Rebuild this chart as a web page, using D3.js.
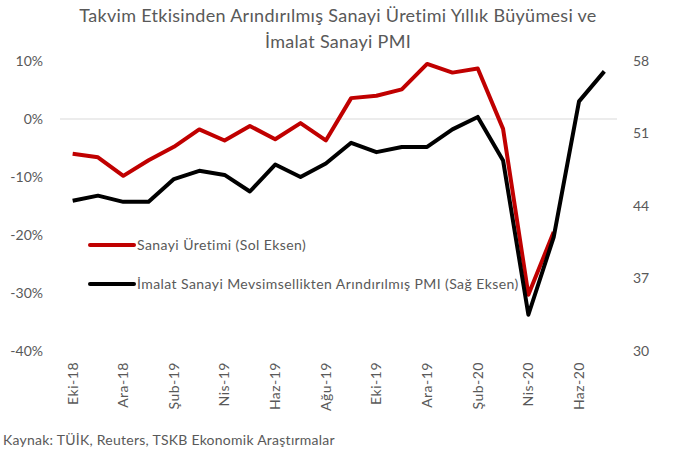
<!DOCTYPE html>
<html>
<head>
<meta charset="utf-8">
<script src="https://cdn.jsdelivr.net/npm/d3@7"></script>
<style>
  body { margin: 0; background: #fff; }
  text { font-family: Lato, "Open Sans", sans-serif; fill: #595959; }
</style>
</head>
<body>
<div id="chart"></div>
<script>
var months = ["Eki-18","Kas-18","Ara-18","Oca-19","Şub-19","Mar-19","Nis-19","May-19","Haz-19","Tem-19","Ağu-19","Eyl-19",
  "Eki-19","Kas-19","Ara-19","Oca-20","Şub-20","Mar-20","Nis-20","May-20","Haz-20","Tem-20"]
var shownLabels = ["Eki-18","Ara-18","Şub-19","Nis-19","Haz-19","Ağu-19","Eki-19","Ara-19","Şub-20","Nis-20","Haz-20"]
// sanayi uretimi, % yillik (sol eksen)
var sanayi = [-6.0,-6.6,-9.8,-7.1,-4.8,-1.8,-3.7,-1.2,-3.5,-0.7,-3.7,3.6,4.0,5.1,9.5,8.0,8.7,-1.7,-30.3,-19.5,null,null]
// imalat PMI (sag eksen)
var pmi = [44.5,45.0,44.4,44.4,46.6,47.4,47.0,45.4,48.0,46.8,48.1,50.1,49.2,49.7,49.7,51.4,52.6,48.4,33.5,41.0,54.1,57.0]
var leftTicks = [10,0,-10,-20,-30,-40]
var rightTicks = [58,51,44,37,30]

var width = 675, height = 452
var dimensions = { margin: { top: 61, right: 58, bottom: 101, left: 60 } }
dimensions.boundedWidth = width - dimensions.margin.left - dimensions.margin.right
dimensions.boundedHeight = height - dimensions.margin.top - dimensions.margin.bottom

var wrapper = d3.select("#chart").append("svg")
  .attr("width", width)
  .attr("height", height)

// legend (under the lines)
var legend = [
  { label: "Sanayi Üretimi (Sol Eksen)", color: "#c00000", y: 245 },
  { label: "İmalat Sanayi Mevsimsellikten Arındırılmış PMI (Sağ Eksen)", color: "#000", y: 284 }
]
legend.forEach(l => {
  wrapper.append("line")
    .attr("x1", 90).attr("x2", 134).attr("y1", l.y).attr("y2", l.y)
    .attr("stroke", l.color).attr("stroke-width", 4).attr("stroke-linecap", "round")
  wrapper.append("text")
    .attr("x", 137).attr("y", l.y).attr("dy", "0.35em")
    .style("font-size", "14px").style("letter-spacing", "0.42px")
    .text(l.label)
})

var bounds = wrapper.append("g")
  .attr("transform", `translate(${dimensions.margin.left},${dimensions.margin.top})`)

var xScale = d3.scaleBand()
  .domain(months)
  .range([0, dimensions.boundedWidth])

var yLeft = d3.scaleLinear().domain([-40, 10]).range([dimensions.boundedHeight, 0])
var yRight = d3.scaleLinear().domain([30, 58]).range([dimensions.boundedHeight, 0])

var xCenter = d => xScale(d) + xScale.bandwidth() / 2

// only the zero gridline
bounds.append("line")
  .attr("x1", 0).attr("x2", dimensions.boundedWidth)
  .attr("y1", yLeft(0)).attr("y2", yLeft(0))
  .attr("stroke", "#d9d9d9").attr("stroke-width", 1)

var yAxisLeft = bounds.append("g")
  .call(d3.axisLeft(yLeft).tickValues(leftTicks).tickSize(0).tickPadding(17).tickFormat(d => d + "%"))
  .call(g => g.select(".domain").remove())
yAxisLeft.selectAll("text").style("font-size", "14px").style("fill", "#595959").style("font-family", "Lato")

var yAxisRight = bounds.append("g")
  .attr("transform", `translate(${dimensions.boundedWidth},0)`)
  .call(d3.axisRight(yRight).tickValues(rightTicks).tickSize(0).tickPadding(16))
  .call(g => g.select(".domain").remove())
yAxisRight.selectAll("text").style("font-size", "14px").style("fill", "#595959").style("font-family", "Lato")

var xAxis = bounds.append("g")
  .attr("transform", `translate(0,${dimensions.boundedHeight})`)
  .call(d3.axisBottom(xScale).tickValues(shownLabels).tickSize(0))
  .call(g => g.select(".domain").remove())
xAxis.selectAll("text")
  .style("font-size", "14px").style("fill", "#595959").style("font-family", "Lato")
  .style("letter-spacing", "0.5px")
  .style("text-anchor", "end")
  .attr("transform", "rotate(-90)")
  .attr("x", -11).attr("y", 0).attr("dy", "0.35em")

var lineLeft = d3.line()
  .defined(d => d.v != null)
  .x(d => xCenter(d.m))
  .y(d => yLeft(d.v))
var lineRight = d3.line()
  .defined(d => d.v != null)
  .x(d => xCenter(d.m))
  .y(d => yRight(d.v))

bounds.append("path")
  .datum(months.map((m, i) => ({ m: m, v: sanayi[i] })))
  .attr("d", lineLeft)
  .attr("fill", "none").attr("stroke", "#c00000").attr("stroke-width", 4)
  .attr("stroke-linejoin", "round")

bounds.append("path")
  .datum(months.map((m, i) => ({ m: m, v: pmi[i] })))
  .attr("d", lineRight)
  .attr("fill", "none").attr("stroke", "#000").attr("stroke-width", 4)
  .attr("stroke-linejoin", "round")

// title
wrapper.append("text")
  .attr("x", 338).attr("y", 22).attr("text-anchor", "middle")
  .style("font-size", "18px").style("letter-spacing", "0.3px")
  .text("Takvim Etkisinden Arındırılmış Sanayi Üretimi Yıllık Büyümesi ve")
wrapper.append("text")
  .attr("x", 338).attr("y", 48).attr("text-anchor", "middle")
  .style("font-size", "18px").style("letter-spacing", "0.3px")
  .text("İmalat Sanayi PMI")

wrapper.append("text")
  .attr("x", 3).attr("y", 445)
  .style("font-size", "14px").style("letter-spacing", "0.25px")
  .text("Kaynak: TÜİK, Reuters, TSKB Ekonomik Araştırmalar")
</script>
</body>
</html>
